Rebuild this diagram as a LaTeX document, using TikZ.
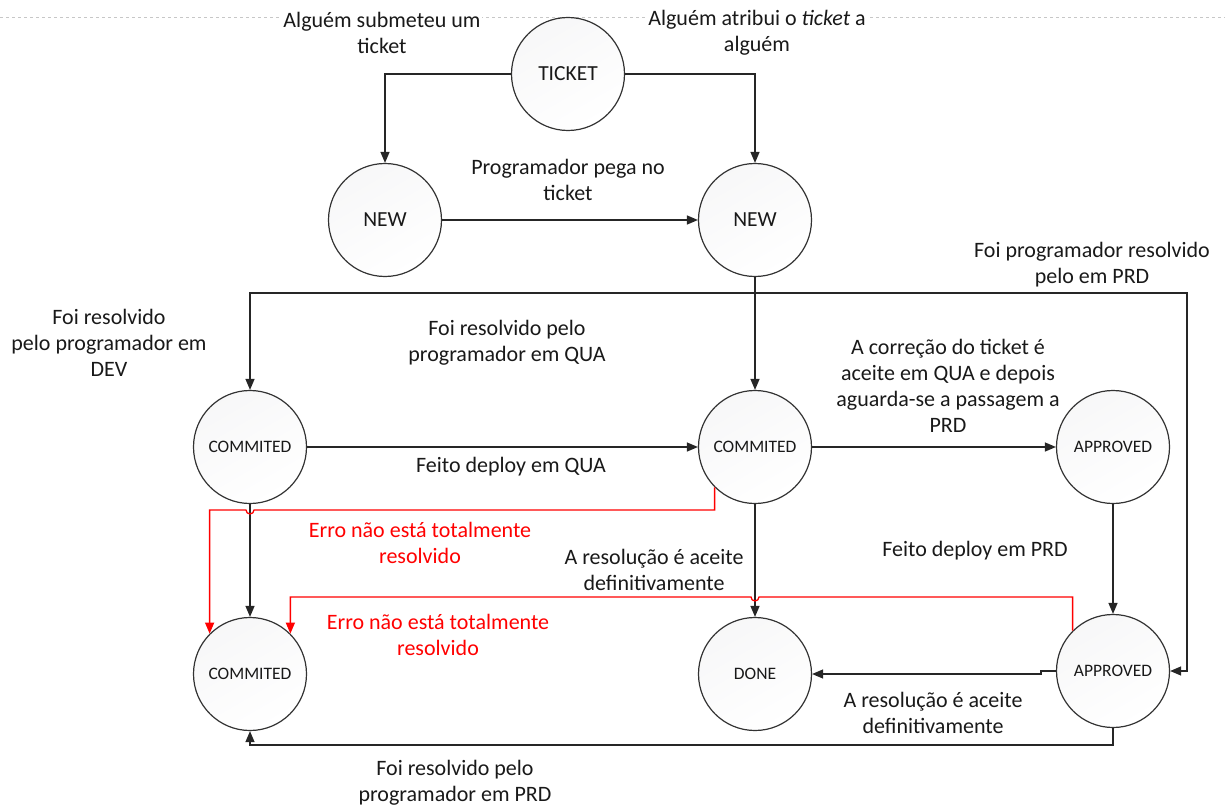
\documentclass[tikz,border=0pt]{standalone}
\usepackage{fontspec}
\setmainfont{Carlito}
\usetikzlibrary{arrows.meta}
\begin{document}
\begin{tikzpicture}[x=1pt,y=-1pt,
  state/.style={circle, draw=black!80, line width=1.2pt, minimum size=113pt, inner sep=0pt,
    top color=blue!10!black!3, bottom color=white, shading angle=30, text=black!90},
  bigtxt/.style={font=\fontsize{21.5}{24}\selectfont},
  smalltxt/.style={font=\fontsize{17.5}{20}\selectfont},
  conn/.style={draw=black!85, line width=1.3pt, -{Triangle[length=11pt,width=9pt]}},
  redconn/.style={draw=red, line width=1.3pt, -{Triangle[length=11pt,width=9pt]}},
  lbl/.style={font=\fontsize{22}{26}\selectfont, align=center, text=black!90, inner sep=1pt},
  redlbl/.style={lbl, text=red}
]
\useasboundingbox (0,0) rectangle (1225,805);
\draw[black!22, dashed, line width=0.8pt] (0,17) -- (1225,17);

% states
\node[state, bigtxt] (tk) at (568,74) {TICKET};
\node[state, bigtxt] (nl) at (385,220) {NEW};
\node[state, bigtxt] (nr) at (755,220) {NEW};
\node[state, smalltxt] (cl) at (250,447) {COMMITED};
\node[state, smalltxt] (cm) at (755,447) {COMMITED};
\node[state, smalltxt] (ap) at (1113,447) {APPROVED};
\node[state, smalltxt] (cb) at (250,674) {COMMITED};
\node[state, smalltxt] (dn) at (755,674) {DONE};
\node[state, smalltxt] (ab) at (1113,671) {APPROVED};

% connectors
\draw[conn] (tk.west) -| (nl.north);
\draw[conn] (tk.east) -| (nr.north);
\draw[conn] (nl) -- (nr);
\draw[conn] (nr) -- (cm);
\coordinate (j) at (755,293);
\coordinate (jr) at (1187,293);
\draw[conn] (j) -| (cl.north);
\draw[conn] (j) -- (jr) |- (ab.east);
\draw[conn] (cl) -- (cm);
\draw[conn] (cm) -- (ap);
\draw[conn] (ap) -- (ab);
\draw[conn] (cm) -- (dn);
\draw[conn] (cl) -- (cb);
\draw[conn] (ab.west) -- ++(-15,0) |- (dn.east);
\draw[conn] (ab.south) -- ++(0,17) -| (cb.south);

% red connectors
\draw[redconn] (cm.225) |- (254,510) arc[start angle=0,end angle=180,radius=4] -- (cb.135 |- 0,510) -- (cb.135);
\draw[redconn] (ab.135) |- (759,597) arc[start angle=0,end angle=180,radius=4] -- (cb.45 |- 0,597) -- (cb.45);

% labels
\node[lbl, fill=white] (l1) at (382,33) {Alguém submeteu um\\ticket};
\node[lbl, fill=white] (l2) at (757,33) {Alguém atribui o \textit{ticket} a\\alguém};
\node[lbl] (l3) at (568,180) {Programador pega no\\ticket};
\node[lbl] (l4) at (1092,265) {Foi programador resolvido\\pelo em PRD};
\node[lbl] (l5) at (109,343) {Foi resolvido\\pelo programador em\\DEV};
\node[lbl] (l6) at (507,343) {Foi resolvido pelo\\programador em QUA};
\node[lbl] (l7) at (948,386) {A correção do ticket é\\aceite em QUA e depois\\aguarda-se a passagem a\\PRD};
\node[lbl] (l8) at (511,467) {Feito deploy em QUA};
\node[redlbl] (l9) at (420,543) {Erro não está totalmente\\resolvido};
\node[lbl] (l10) at (654,570) {A resolução é aceite\\definitivamente};
\node[lbl] (l11) at (975,551) {Feito deploy em PRD};
\node[redlbl] (l12) at (438,635) {Erro não está totalmente\\resolvido};
\node[lbl] (l13) at (933,713) {A resolução é aceite\\definitivamente};
\node[lbl] (l14) at (455,783) {Foi resolvido pelo\\programador em PRD};
\end{tikzpicture}
\end{document}
